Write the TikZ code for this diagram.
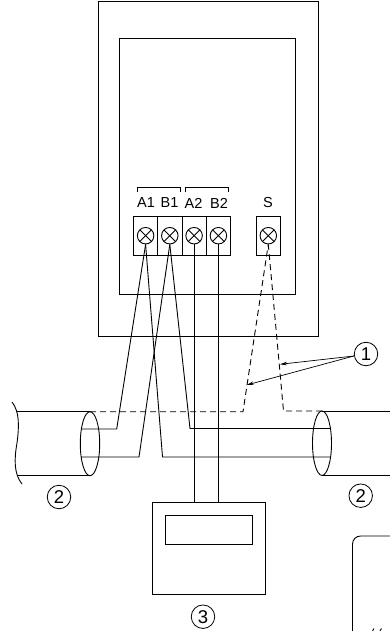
\documentclass[tikz,border=0pt]{standalone}
\usepackage{fontspec}
\setmainfont{Liberation Sans}
\usetikzlibrary{arrows.meta}
\tikzset{
    wire/.style={black, line width=0.9pt},
    shield/.style={black, line width=0.9pt, dashed, dash pattern=on 6pt off 4pt},
    num/.style={circle, draw, line width=0.8pt, inner sep=0pt, minimum size=23.5pt, font=\fontsize{18.5}{19}\selectfont},
    lab/.style={inner sep=0pt, font=\fontsize{14.5}{15}\selectfont},
    screw/.style={circle, draw, line width=0.9pt, inner sep=0pt, minimum size=16.5pt, path picture={
        \draw[line width=0.9pt] (path picture bounding box.north west) -- (path picture bounding box.south east);
        \draw[line width=0.9pt] (path picture bounding box.north east) -- (path picture bounding box.south west);}}
}
\begin{document}
\begin{tikzpicture}[x=1pt, y=-1pt, line width=0.9pt]
    \useasboundingbox (0,0) rectangle (390,631);
    % unit
    \draw (98,1) rectangle (318,336);
    \draw (119,38) rectangle (295,294);
    % terminals
    \draw (133.5,216) rectangle (230.5,255);
    \draw (157.7,216) -- (157.7,255);
    \draw (182,216) -- (182,255);
    \draw (206.3,216) -- (206.3,255);
    \draw (256,216) rectangle (280.5,255);
    \node[screw] (A1) at (145.6,235.7) {};
    \node[screw] (B1) at (169.8,235.7) {};
    \node[screw] (A2) at (194.1,235.7) {};
    \node[screw] (B2) at (218.4,235.7) {};
    \node[screw] (S) at (268.3,235.7) {};
    \node[lab] at (146,203) {A1};
    \node[lab] at (169.5,203) {B1};
    \node[lab] at (193.5,203) {A2};
    \node[lab] at (219,203) {B2};
    \node[lab] at (268,203) {S};
    \draw (137,192) -- (137,187) -- (180,187) -- (180,192);
    \draw (185,192) -- (185,187) -- (228,187) -- (228,192);
    % cables
    \coordinate (L1) at (81,429);
    \coordinate (L2) at (81,457);
    \coordinate (R1) at (330,428.5);
    \coordinate (R2) at (330,457);
    \coordinate (LT) at (90,411.7);
    \coordinate (LB) at (90,475.7);
    \coordinate (RT) at (322,411);
    \coordinate (RB) at (322,475.5);
    \draw (17,411.7) -- (LT);
    \draw (17,475.7) -- (LB);
    \draw (RT) -- (390,411);
    \draw (RB) -- (390,475.5);
    \draw (90,443.7) ellipse (9.7 and 32);
    \draw (322,443.2) ellipse (9.5 and 32.2);
    \draw (12,402) .. controls (20,412) and (19,428) .. (17,443) .. controls (14,460) and (14,474) .. (22,484);
    % wires
    \draw[wire] (L1) -- (116.7,429) -- (A1.south);
    \draw[wire] (L2) -- (139,457) -- (B1.south);
    \draw[wire] (R1) -- (190,428.5) -- (B1.south);
    \draw[wire] (R2) -- (162.5,457) -- (A1.south);
    \draw[wire] (A2.south) -- (194.1,502);
    \draw[wire] (B2.south) -- (218.4,502);
    % shield
    \coordinate (DL) at (243,411.7);
    \coordinate (DR) at (283.5,411);
    \draw[shield] (LT) -- (DL) -- (S.south);
    \draw[shield] (RT) -- (DR) -- (S.south);
    % remote
    \draw (152.5,502) rectangle (265,594);
    \draw (165.5,515) rectangle (252.7,544);
    % numbers
    \node[num] (n1) at (366,354) {1};
    \node[num] (n2) at (59,497) {2};
    \node[num] (n3) at (360.7,495.7) {2};
    \node[num] (n4) at (203,616.7) {3};
    \coordinate (P1) at (280,364.3);
    \coordinate (P2) at (246.7,385);
    \draw[-{Stealth[length=7pt,width=3.5pt]}, line width=0.7pt] (n1.west) ++(0,2) -- (P1);
    \draw[-{Stealth[length=7pt,width=3.5pt]}, line width=0.7pt] (n1.west) ++(0,2) -- (P2);
    % corner
    \draw (352.5,631) -- (352.5,544) arc (180:270:8) -- (390,536);
    \draw (372.5,631) -- (374,628.5);
    \draw (380,631) -- (381.5,628.5);
\end{tikzpicture}
\end{document}
